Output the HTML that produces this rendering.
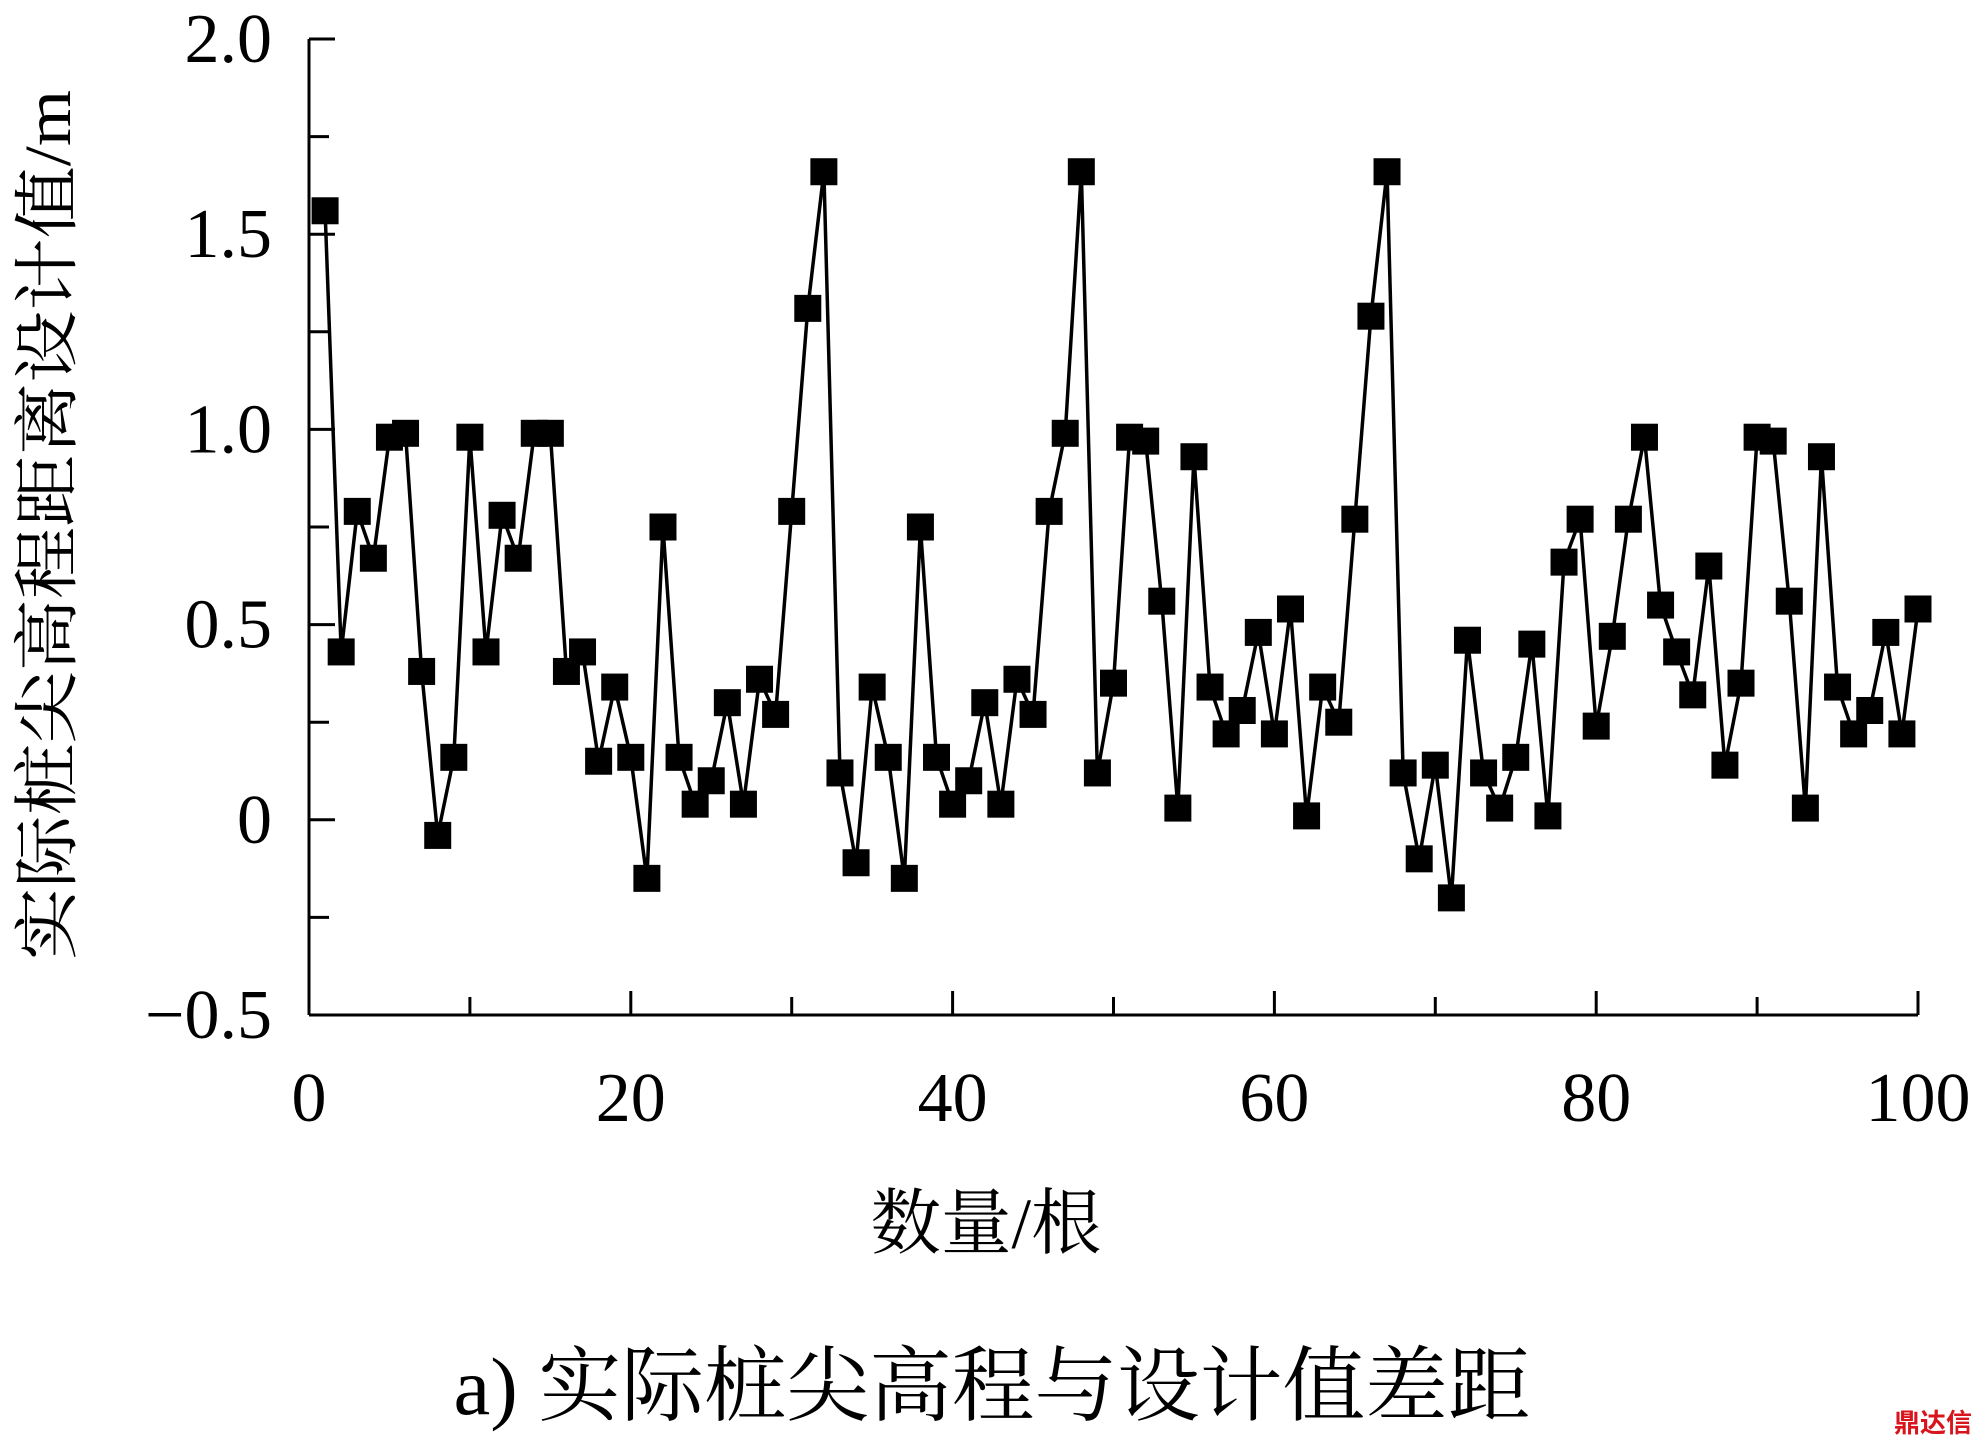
<!DOCTYPE html>
<html><head><meta charset="utf-8"><style>
html,body{margin:0;padding:0;background:#fff;}
svg{display:block;}
</style></head><body>
<svg id="chart" xmlns="http://www.w3.org/2000/svg" width="1979" height="1445" viewBox="0 0 1979 1445">
<g id="axes"></g>
<g id="series"></g>
<text transform="translate(70,525) rotate(-90)" text-anchor="middle" font-family="Liberation Serif, Noto Serif CJK SC, serif" font-size="66" textLength="870" lengthAdjust="spacingAndGlyphs">实际桩尖高程距离设计值/m</text>
<text x="986" y="1248" text-anchor="middle" font-family="Liberation Serif, Noto Serif CJK SC, serif" font-size="72" textLength="231" lengthAdjust="spacingAndGlyphs">数量/根</text>
<text x="992" y="1414" text-anchor="middle" font-family="Liberation Serif, Noto Serif CJK SC, serif" font-size="82" textLength="1077" lengthAdjust="spacingAndGlyphs">a) 实际桩尖高程与设计值差距</text>
<text x="1972" y="1432" text-anchor="end" font-family="Noto Sans CJK SC, sans-serif" font-weight="bold" font-size="26" fill="#d8141c">鼎达信</text>
</svg>
<script>
const values = [1.56,0.43,0.79,0.67,0.98,0.99,0.38,-0.04,0.16,0.98,0.43,0.78,0.67,0.99,0.99,0.38,0.43,0.15,0.34,0.16,-0.15,0.75,0.16,0.04,0.10,0.30,0.04,0.36,0.27,0.79,1.31,1.66,0.12,-0.11,0.34,0.16,-0.15,0.75,0.16,0.04,0.10,0.30,0.04,0.36,0.27,0.79,0.99,1.66,0.12,0.35,0.98,0.97,0.56,0.03,0.93,0.34,0.22,0.28,0.48,0.22,0.54,0.01,0.34,0.25,0.77,1.29,1.66,0.12,-0.10,0.14,-0.20,0.46,0.12,0.03,0.16,0.45,0.01,0.66,0.77,0.24,0.47,0.77,0.98,0.55,0.43,0.32,0.65,0.14,0.35,0.98,0.97,0.56,0.03,0.93,0.34,0.22,0.28,0.48,0.22,0.54];
const xTicks = [0,20,40,60,80,100];
const xMinor = [10,30,50,70,90];
const yTicks = [-0.5,0,0.5,1.0,1.5,2.0];
const yTickLabels = ["\u22120.5","0","0.5","1.0","1.5","2.0"];
const yMinor = [-0.25,0.25,0.75,1.25,1.75];

const NS='http://www.w3.org/2000/svg';
const X0=309,X1=1918,Y0=1015,Y1=39;
const xs=v=>X0+(v-0)/(100-0)*(X1-X0);
const ys=v=>Y0-(v+0.5)/(2.5)*(Y0-Y1);
function mk(tag,attrs,parent){const e=document.createElementNS(NS,tag);for(const k in attrs)e.setAttribute(k,attrs[k]);parent.appendChild(e);return e;}
const axes=document.getElementById('axes');
const series=document.getElementById('series');
const font='Liberation Serif, serif';

let a=mk('line',{x1:X0,y1:Y1,x2:X0,y2:Y0,stroke:'#000','stroke-width':3},axes);


a=mk('line',{x1:X0,y1:Y0,x2:X1,y2:Y0,stroke:'#000','stroke-width':3},axes);



yTicks.forEach((v,i)=>{
  const t=mk('line',{x1:X0,y1:ys(v),x2:X0+26,y2:ys(v),stroke:'#000','stroke-width':3},axes);
  
  
  const l=mk('text',{x:272,y:ys(v)+23,'text-anchor':'end','font-family':font,'font-size':70},axes);
  l.textContent=yTickLabels[i];
  
  
});
yMinor.forEach(v=>{
  const t=mk('line',{x1:X0,y1:ys(v),x2:X0+20,y2:ys(v),stroke:'#000','stroke-width':3},axes);
  
  
});
xTicks.forEach(v=>{
  const t=mk('line',{x1:xs(v),y1:Y0,x2:xs(v),y2:Y0-24,stroke:'#000','stroke-width':3},axes);
  
  
  const l=mk('text',{x:xs(v),y:1121,'text-anchor':'middle','font-family':font,'font-size':70},axes);
  l.textContent=String(v);
  
  
});
xMinor.forEach(v=>{
  const t=mk('line',{x1:xs(v),y1:Y0,x2:xs(v),y2:Y0-18,stroke:'#000','stroke-width':3},axes);
  
  
});

const pts=values.map((v,i)=>xs(i+1)+','+ys(v)).join(' ');
const line=mk('polyline',{points:pts,fill:'none',stroke:'#000','stroke-width':3.5,'stroke-linejoin':'miter'},series);


const S=27;
values.forEach((v,i)=>{
  const r=mk('rect',{x:xs(i+1)-S/2,y:ys(v)-S/2,width:S,height:S,fill:'#000'},series);
  
  
});
</script>
</body></html>
